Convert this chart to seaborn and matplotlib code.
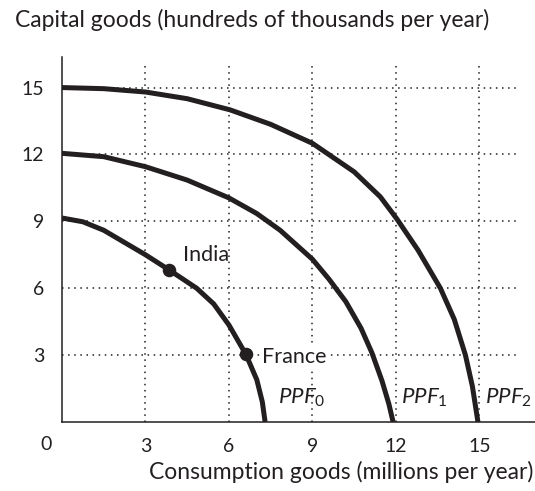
import matplotlib
matplotlib.use("Agg")
import matplotlib.pyplot as plt
import numpy as np
import pandas as pd
import seaborn as sns

# Production possibility frontiers (consumption goods, capital goods)
ppf0_x = [0.0, 0.75, 1.5, 3.0, 3.85, 4.84, 5.45, 6.0, 6.61, 7.0, 7.2, 7.3]
ppf0_y = [9.15, 8.98, 8.6, 7.5, 6.82, 6.0, 5.3, 4.35, 3.03, 1.9, 0.9, 0.0]

ppf1_x = [0.0, 1.5, 3.0, 4.5, 6.0, 7.0, 7.84, 9.0, 9.6, 10.2, 10.75, 11.14, 11.5, 11.75, 11.9]
ppf1_y = [12.05, 11.9, 11.45, 10.85, 10.05, 9.35, 8.6, 7.3, 6.4, 5.4, 4.2, 3.1, 1.85, 0.8, 0.0]

ppf2_x = [0.0, 1.5, 3.0, 4.5, 6.04, 7.5, 9.0, 10.5, 11.44, 12.04, 12.8, 13.6, 14.1, 14.5, 14.75, 14.95]
ppf2_y = [15.0, 14.95, 14.8, 14.5, 14.0, 13.35, 12.5, 11.22, 10.1, 9.1, 7.7, 6.0, 4.6, 3.0, 1.6, 0.0]

ppf_names = ["PPF0", "PPF1", "PPF2"]
ppf_labels = [r"$PPF_0$", r"$PPF_1$", r"$PPF_2$"]

# Economies on PPF0
countries = ["India", "France"]
country_x = [3.85, 6.61]
country_y = [6.82, 3.03]

ticks = [3, 6, 9, 12, 15]

ink = "#231f20"

sns.set_theme(style="white")
plt.rcParams["font.family"] = ["Lato", "DejaVu Sans"]
plt.rcParams["mathtext.fontset"] = "custom"
plt.rcParams["mathtext.it"] = "Lato:italic"
plt.rcParams["mathtext.rm"] = "Lato"

curves = pd.DataFrame({
    "consumption": ppf0_x + ppf1_x + ppf2_x,
    "capital": ppf0_y + ppf1_y + ppf2_y,
    "ppf": [ppf_names[0]] * len(ppf0_x) + [ppf_names[1]] * len(ppf1_x) + [ppf_names[2]] * len(ppf2_x),
})
points = pd.DataFrame({"consumption": country_x, "capital": country_y, "country": countries})

fig = plt.figure(figsize=(5.35, 4.91), dpi=100)
ax = fig.add_axes([0.1159, 0.1405, 0.8841, 0.7434])

# dotted guide lines
ax.hlines(ticks, 0, 16.4, colors=ink, linestyles=(0, (1, 3)), linewidth=1.1, zorder=1)
ax.vlines(ticks, 0, 16.0, colors=ink, linestyles=(0, (1, 3)), linewidth=1.1, zorder=1)

for name in ppf_names:
    sub = curves[curves["ppf"] == name]
    sns.lineplot(data=sub, x="consumption", y="capital", sort=False, estimator=None,
                 color=ink, linewidth=3.6, ax=ax, zorder=3,
                 solid_joinstyle="round", solid_capstyle="butt")

sns.scatterplot(data=points, x="consumption", y="capital", color=ink, s=95,
                edgecolor=ink, linewidth=0, ax=ax, zorder=4)

tick_fs = 14
lab_fs = 16.5
ax.text(4.35, 7.5, "India", fontsize=15.5, color=ink, ha="left", va="center", zorder=5)
ax.text(7.18, 2.93, "France", fontsize=15.5, color=ink, ha="left", va="center", zorder=5,
        bbox=dict(facecolor="white", edgecolor="none", pad=1.5))
for lbl, lx in zip(ppf_labels, [7.77, 12.2, 15.2]):
    ax.text(lx, 1.1, lbl, fontsize=16, color=ink, ha="left", va="center", zorder=5)

ax.set_xlim(0, 17.0)
ax.set_ylim(0, 16.37)
ax.set_xticks(ticks)
ax.set_yticks(ticks)
ax.set_xticklabels([str(t) for t in ticks], fontsize=tick_fs, color=ink)
ax.set_yticklabels([str(t) for t in ticks], fontsize=tick_fs, color=ink)
ax.tick_params(axis="both", direction="out", length=5.8, width=0.8, color=ink)
ax.tick_params(axis="x", pad=6)
ax.tick_params(axis="y", pad=7)
ax.text(-0.58, -1.03, "0", fontsize=tick_fs, color=ink, ha="center", va="center", clip_on=False)

ax.set_xlabel("")
ax.set_ylabel("")
for side in ["top", "right"]:
    ax.spines[side].set_visible(False)
for side in ["left", "bottom"]:
    ax.spines[side].set_color(ink)
    ax.spines[side].set_linewidth(1.1)

fig.text(15 / 535, 1 - 20 / 491, "Capital goods (hundreds of thousands per year)",
         fontsize=lab_fs, color=ink, ha="left", va="center")
fig.text(533 / 535, 1 - 472 / 491, "Consumption goods (millions per year)",
         fontsize=lab_fs, color=ink, ha="right", va="center")

fig.savefig("out.png", dpi=100)
